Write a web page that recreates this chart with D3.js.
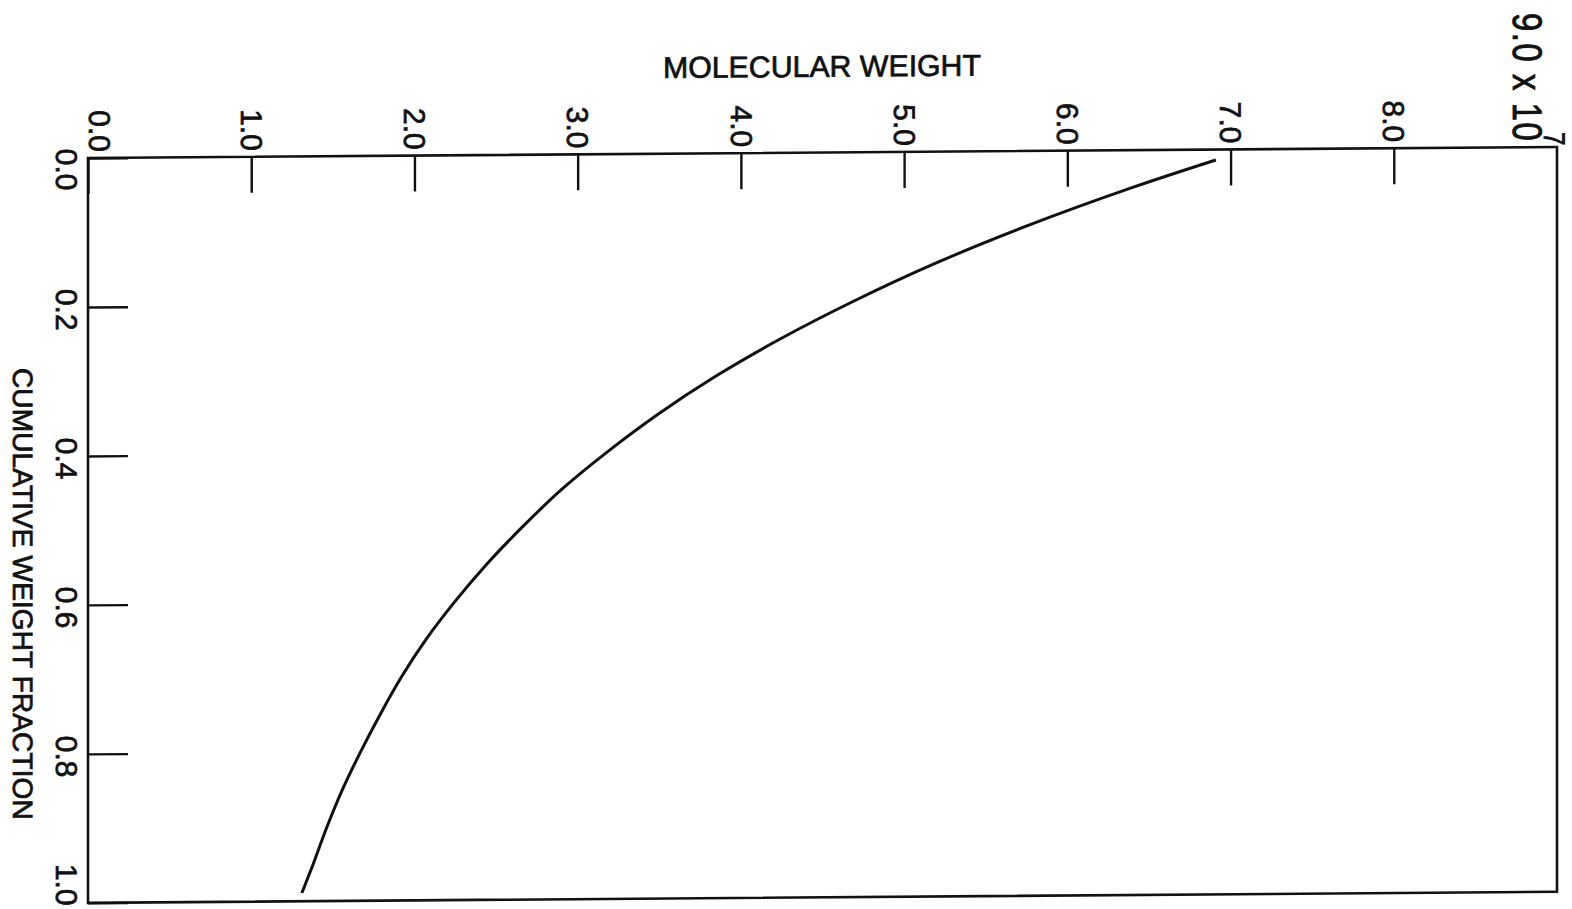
<!DOCTYPE html>
<html>
<head>
<meta charset="utf-8">
<script src="https://cdn.jsdelivr.net/npm/d3@7"></script>
<style>
  html, body { margin: 0; padding: 0; background: #fff; }
  svg { display: block; }
  text { font-family: "Liberation Sans", "DejaVu Sans", sans-serif; fill: #111; stroke: #111; stroke-width: 0.7px; }
</style>
</head>
<body>
<svg id="chart" width="1572" height="909"></svg>
<script>
// Molecular weight (units of 10^7) against cumulative weight fraction
const molWeight   = [6.91, 6.40, 5.76, 5.19, 4.69, 4.24, 3.84, 3.49, 3.18, 2.90, 2.66, 2.44,
                     2.245, 2.07, 1.92, 1.79, 1.67, 1.56, 1.465, 1.38, 1.31];
const cumFraction = [0.014, 0.05, 0.10, 0.15, 0.20, 0.25, 0.30, 0.35, 0.40, 0.45, 0.50, 0.55,
                     0.60, 0.65, 0.70, 0.75, 0.80, 0.85, 0.90, 0.95, 0.989];

const xTicks = [0, 1, 2, 3, 4, 5, 6, 7, 8];
const xTickLabels = ["0.0", "1.0", "2.0", "3.0", "4.0", "5.0", "6.0", "7.0", "8.0"];
const yTicks = [0, 0.2, 0.4, 0.6, 0.8, 1.0];
const yTickLabels = ["0.0", "0.2", "0.4", "0.6", "0.8", "1.0"];
const xTitle = "MOLECULAR WEIGHT";
const yTitle = "CUMULATIVE WEIGHT FRACTION";
const xEndLabel = "9.0 x 10";
const xEndExponent = "7";

const plot = { left: 88, right: 1557, top: 158.7, bottom: 903.5 };

const svg = d3.select("#chart");
// whole sheet sits slightly sheared
const g = svg.append("g").attr("transform", "skewY(-0.43)");

const x = d3.scaleLinear().domain([0, 9]).range([plot.left, plot.right]);
const y = d3.scaleLinear().domain([0, 1]).range([plot.top, plot.bottom]);

// frame
g.append("rect")
  .attr("x", plot.left).attr("y", plot.top)
  .attr("width", plot.right - plot.left).attr("height", plot.bottom - plot.top)
  .attr("fill", "none").attr("stroke", "#111").attr("stroke-width", 2.6);

// top axis: ticks pointing into the plot, labels rotated
const xAxis = d3.axisTop(x).tickValues(xTicks).tickSizeInner(-36).tickSizeOuter(0)
  .tickFormat((d, i) => xTickLabels[i]);
const gx = g.append("g").attr("transform", `translate(0,${plot.top})`).call(xAxis);
gx.select(".domain").remove();
gx.selectAll(".tick line").attr("stroke", "#111").attr("stroke-width", 2.4);
gx.selectAll(".tick text")
  .attr("font-size", 30)
  .attr("text-anchor", "end")
  .attr("transform", "rotate(90)")
  .attr("x", -6)
  .attr("y", (d, i) => i === 0 ? -11 : 0)
  .attr("dy", "0.36em");

// 9.0 x 10^7 at the far end of the top axis
const endLbl = g.append("text")
  .attr("font-size", 33)
  .attr("transform", `translate(1513,${13 + 0.0075 * 1513}) rotate(90) scale(1,1.25)`)
  .attr("x", 0).attr("y", 0)
  .attr("letter-spacing", 1.5);
endLbl.append("tspan").text(xEndLabel);
endLbl.append("tspan").attr("font-size", 24).attr("dy", -25).attr("dx", -10).text(xEndExponent);

// left axis
const yAxis = d3.axisLeft(y).tickValues(yTicks).tickSizeInner(-40).tickSizeOuter(0)
  .tickFormat((d, i) => yTickLabels[i]);
const gy = g.append("g").attr("transform", `translate(${plot.left},0)`).call(yAxis);
gy.select(".domain").remove();
gy.selectAll(".tick line").attr("stroke", "#111").attr("stroke-width", 2.4);
gy.selectAll(".tick text")
  .attr("font-size", 30)
  .attr("transform", "rotate(90)")
  .attr("text-anchor", (d, i) => i === 0 ? "start" : (i === yTicks.length - 1 ? "end" : "middle"))
  .attr("x", (d, i) => i === 0 ? -10 : 2)
  .attr("y", 21)
  .attr("dy", "0.36em");

// axis titles
g.append("text")
  .attr("x", 822).attr("y", 83)
  .attr("text-anchor", "middle")
  .attr("font-size", 30)
  .attr("textLength", 318)
  .attr("lengthAdjust", "spacingAndGlyphs")
  .text(xTitle);

g.append("text")
  .attr("transform", "translate(23,594) rotate(90)")
  .attr("text-anchor", "middle")
  .attr("dy", "0.36em")
  .attr("font-size", 28)
  .attr("textLength", 452)
  .attr("lengthAdjust", "spacingAndGlyphs")
  .text(yTitle);

// curve
const pts = molWeight.map((m, i) => [m, cumFraction[i]]);
const line = d3.line().x(d => x(d[0])).y(d => y(d[1])).curve(d3.curveCatmullRom.alpha(0.5));
g.append("path")
  .attr("d", line(pts))
  .attr("fill", "none")
  .attr("stroke", "#111")
  .attr("stroke-width", 3);
</script>
</body>
</html>
